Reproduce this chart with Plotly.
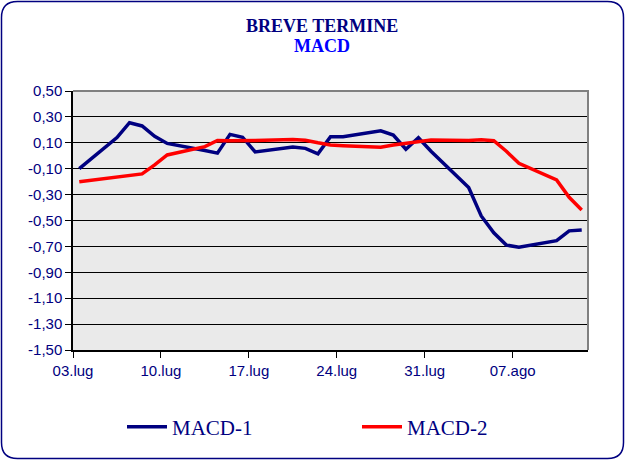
import plotly.graph_objects as go
import pandas as pd

# trading days (weekends are missing)
dates = ["2009-07-03",
         "2009-07-06", "2009-07-07", "2009-07-08", "2009-07-09", "2009-07-10",
         "2009-07-13", "2009-07-14", "2009-07-15", "2009-07-16", "2009-07-17",
         "2009-07-20", "2009-07-21", "2009-07-22", "2009-07-23", "2009-07-24",
         "2009-07-27", "2009-07-28", "2009-07-29", "2009-07-30", "2009-07-31",
         "2009-08-03", "2009-08-04", "2009-08-05", "2009-08-06", "2009-08-07",
         "2009-08-10", "2009-08-11", "2009-08-12"]

macd1 = [-0.10,
         0.14, 0.255, 0.23, 0.15, 0.095,
         0.04, 0.02, 0.165, 0.143, 0.03,
         0.068, 0.057, 0.015, 0.147, 0.147,
         0.193, 0.16, 0.05, 0.139, 0.035,
         -0.245, -0.465, -0.595, -0.69, -0.707,
         -0.656, -0.58, -0.573]

macd2 = [-0.20,
         -0.167, -0.154, -0.14, -0.07, 0.006,
         0.07, 0.118, 0.115, 0.115, 0.118,
         0.125, 0.12, 0.10, 0.083, 0.078,
         0.065, 0.083, 0.096, 0.111, 0.122,
         0.118, 0.124, 0.116, 0.035, -0.058,
         -0.187, -0.321, -0.419]

tick_dates = ["2009-07-03", "2009-07-10", "2009-07-17", "2009-07-24", "2009-07-31", "2009-08-07"]
tick_labels = ["03.lug", "10.lug", "17.lug", "24.lug", "31.lug", "07.ago"]

y_ticks = [0.5, 0.3, 0.1, -0.1, -0.3, -0.5, -0.7, -0.9, -1.1, -1.3, -1.5]
y_tick_labels = ["0,50", "0,30", "0,10", "-0,10", "-0,30", "-0,50",
                 "-0,70", "-0,90", "-1,10", "-1,30", "-1,50"]

NAVY = "#000080"
W, H = 625, 460
ML, MR, MT, MB = 73, 37, 91, 110

x = pd.to_datetime(dates)
half = pd.Timedelta(hours=12)
tickvals = pd.to_datetime(tick_dates) - half
x_range = [x[0] - half, x[0] - half + pd.Timedelta(days=41)]

fig = go.Figure()
fig.add_trace(go.Scatter(x=x, y=macd1, mode="lines", name="MACD-1",
                         line=dict(color=NAVY, width=3.5)))
fig.add_trace(go.Scatter(x=x, y=macd2, mode="lines", name="MACD-2",
                         line=dict(color="#FF0000", width=3.5)))

# rounded frame round the whole chart, in paper units
pw, ph = W - ML - MR, H - MT - MB
def px(v):
    return (v - ML) / pw
def py(v):
    return (H - MB - v) / ph
r = 16
x0, x1, y0, y1 = 1.5, W - 1.5, 1.5, H - 1.5
frame = (f"M {px(x0 + r)} {py(y0)} L {px(x1 - r)} {py(y0)} "
         f"Q {px(x1)} {py(y0)} {px(x1)} {py(y0 + r)} "
         f"L {px(x1)} {py(y1 - r)} Q {px(x1)} {py(y1)} {px(x1 - r)} {py(y1)} "
         f"L {px(x0 + r)} {py(y1)} Q {px(x0)} {py(y1)} {px(x0)} {py(y1 - r)} "
         f"L {px(x0)} {py(y0 + r)} Q {px(x0)} {py(y0)} {px(x0 + r)} {py(y0)} Z")

fig.update_layout(
    width=W, height=H,
    margin=dict(l=ML, r=MR, t=MT, b=MB),
    paper_bgcolor="white",
    plot_bgcolor="#EAEAEA",
    showlegend=True,
    legend=dict(orientation="h", x=px(122), xanchor="left", y=py(427), yanchor="middle",
                font=dict(family="Liberation Serif", size=21, color=NAVY),
                entrywidth=180, itemwidth=40, bgcolor="rgba(0,0,0,0)"),
    shapes=[
        dict(type="path", xref="paper", yref="paper", path=frame,
             line=dict(color=NAVY, width=1.5), layer="above"),
        dict(type="path", xref="paper", yref="paper", path="M 0 1 L 1 1 L 1 0",
             line=dict(color="#808080", width=2), layer="above"),
    ],
    annotations=[
        dict(text="<b>BREVE TERMINE</b>", xref="paper", yref="paper",
             x=px(322), y=py(26), xanchor="center", yanchor="middle", showarrow=False,
             font=dict(family="Liberation Serif", size=18, color=NAVY)),
        dict(text="<b>MACD</b>", xref="paper", yref="paper",
             x=px(322), y=py(46), xanchor="center", yanchor="middle", showarrow=False,
             font=dict(family="Liberation Serif", size=18, color="#0000FF")),
    ],
)

fig.update_xaxes(type="date", range=x_range, tickvals=tickvals, ticktext=tick_labels,
                 showgrid=False, zeroline=False,
                 showline=True, linecolor="black", linewidth=1.5,
                 ticks="outside", ticklen=6, tickcolor="black",
                 tickfont=dict(family="Liberation Sans", size=15, color=NAVY))
fig.update_yaxes(range=[-1.5, 0.5], tickvals=y_ticks, ticktext=y_tick_labels,
                 showgrid=True, gridcolor="black", gridwidth=1, zeroline=False,
                 showline=True, linecolor="black", linewidth=1.5,
                 ticks="outside", ticklen=6, tickcolor="black",
                 tickfont=dict(family="Liberation Sans", size=15, color=NAVY))

fig.write_html("out.html", config={"displayModeBar": False},
               post_script="document.body.style.margin='0';")
